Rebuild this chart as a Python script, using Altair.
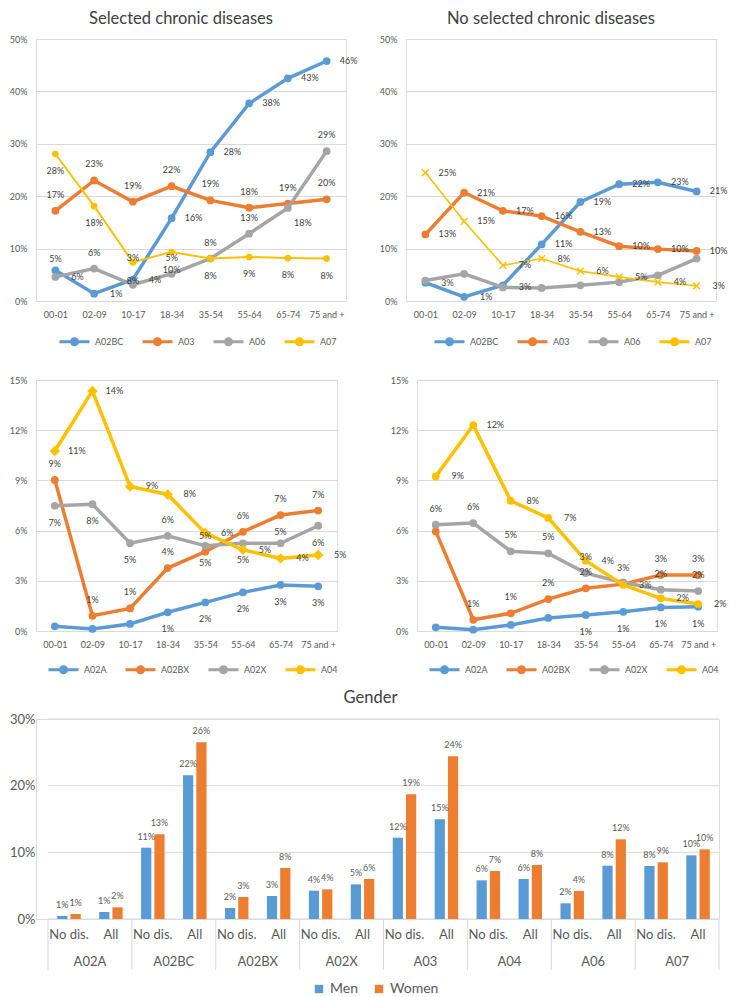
import altair as alt
import pandas as pd

FONT = "Lato"
AXIS_GRAY = "#595959"
LABEL_GRAY = "#404040"
GRID = "#d9d9d9"

CATS = ["00-01", "02-09", "10-17", "18-34", "35-54", "55-64", "65-74", "75 and +"]

# ---------- Panel 1: Selected chronic diseases (values in %) ----------
P1_SERIES = ["A02BC", "A03", "A06", "A07"]
P1_A02BC = [5.85, 1.4, 4.1, 15.8, 28.4, 37.7, 42.5, 45.8]
P1_A03 = [17.2, 23.0, 18.95, 21.9, 19.2, 17.8, 18.6, 19.4]
P1_A06 = [4.6, 6.2, 3.1, 5.2, 8.1, 12.85, 17.75, 28.6]
P1_A07 = [28.05, 18.1, 7.4, 9.35, 8.1, 8.4, 8.2, 8.1]
P1_A02BC_LAB = ["5%", "1%", "4%", "16%", "28%", "38%", "43%", "46%"]
P1_A03_LAB = ["17%", "23%", "19%", "22%", "19%", "18%", "19%", "20%"]
P1_A06_LAB = ["6%", "6%", "8%", "10%", "8%", "13%", "18%", "29%"]
P1_A07_LAB = ["28%", "18%", "3%", "5%", "8%", "9%", "8%", "8%"]
P1_A02BC_POS = ["a2", "r", "r", "r", "r", "r", "r", "r"]
P1_A03_POS = ["a", "a", "a", "a", "a", "a", "a", "a"]
P1_A06_POS = ["r", "a", "o", "o", "a", "a", "br", "a"]
P1_A07_POS = ["b", "b", "o", "u", "b", "b", "b", "b"]

# ---------- Panel 2: No selected chronic diseases ----------
P2_SERIES = ["A02BC", "A03", "A06", "A07"]
P2_A02BC = [3.5, 0.8, 3.0, 10.8, 18.9, 22.3, 22.65, 20.9]
P2_A03 = [12.7, 20.7, 17.2, 16.2, 13.2, 10.45, 9.9, 9.55]
P2_A06 = [3.9, 5.2, 2.6, 2.5, 3.0, 3.6, 4.9, 8.1]
P2_A07 = [24.5, 15.2, 6.8, 8.1, 5.7, 4.6, 3.6, 2.9]
P2_A02BC_LAB = ["3%", "1%", "", "11%", "19%", "22%", "23%", "21%"]
P2_A03_LAB = ["13%", "21%", "17%", "16%", "13%", "10%", "10%", "10%"]
P2_A06_LAB = ["", "", "3%", "", "", "", "", ""]
P2_A07_LAB = ["25%", "15%", "7%", "8%", "6%", "5%", "4%", "3%"]
P2_POS = ["r"] * 8

# ---------- Panel 3: selected chronic diseases, other groups ----------
P3_SERIES = ["A02A", "A02BX", "A02X", "A04"]
P3_A02A = [0.28, 0.12, 0.42, 1.12, 1.71, 2.31, 2.75, 2.67]
P3_A02BX = [9.03, 0.91, 1.35, 3.76, 4.74, 5.93, 6.93, 7.2]
P3_A02X = [7.48, 7.58, 5.25, 5.69, 5.09, 5.24, 5.24, 6.29]
P3_A04 = [10.76, 14.35, 8.64, 8.16, 5.85, 4.85, 4.34, 4.54]
P3_A02A_LAB = ["", "", "", "1%", "2%", "2%", "3%", "3%"]
P3_A02BX_LAB = ["9%", "1%", "1%", "4%", "5%", "6%", "7%", "7%"]
P3_A02X_LAB = ["7%", "8%", "5%", "6%", "5%", "5%", "5%", "6%"]
P3_A04_LAB = ["11%", "14%", "9%", "8%", "6%", "5%", "4%", "5%"]
P3_A02A_POS = ["b"] * 8
P3_A02BX_POS = ["a"] * 8
P3_A02X_POS = ["b", "b", "b", "a", "b", "b", "a2", "b"]
P3_A04_POS = ["r"] * 8

# ---------- Panel 4: no selected chronic diseases, other groups ----------
P4_SERIES = ["A02A", "A02BX", "A02X", "A04"]
P4_A02A = [0.22, 0.08, 0.36, 0.78, 0.96, 1.15, 1.41, 1.45]
P4_A02BX = [5.95, 0.67, 1.06, 1.91, 2.55, 2.8, 3.34, 3.34]
P4_A02X = [6.35, 6.45, 4.76, 4.64, 3.46, 2.9, 2.47, 2.39]
P4_A04 = [9.24, 12.3, 7.78, 6.76, 4.2, 2.75, 1.95, 1.61]
P4_A02A_LAB = ["", "", "", "", "1%", "1%", "1%", "1%"]
P4_A02BX_LAB = ["", "1%", "1%", "2%", "2%", "3%", "3%", "3%"]
P4_A02X_LAB = ["6%", "6%", "5%", "5%", "3%", "", "2%", "2%"]
P4_A04_LAB = ["9%", "12%", "8%", "7%", "4%", "3%", "2%", "2%"]
P4_A02A_POS = ["b"] * 8
P4_A02BX_POS = ["a"] * 8
P4_A02X_POS = ["a"] * 8
P4_A04_POS = ["r"] * 8

# ---------- Bar chart: Gender (values in %) ----------
GROUPS = ["A02A", "A02BC", "A02BX", "A02X", "A03", "A04", "A06", "A07"]
SUBS = ["No dis.", "All"]
GENDERS = ["Men", "Women"]
MEN_NODIS = [0.45, 10.7, 1.65, 4.25, 12.2, 5.8, 2.35, 7.95]
WOMEN_NODIS = [0.75, 12.7, 3.3, 4.45, 18.7, 7.2, 4.2, 8.5]
MEN_ALL = [1.05, 21.55, 3.45, 5.2, 14.95, 6.0, 8.0, 9.55]
WOMEN_ALL = [1.75, 26.5, 7.65, 6.0, 24.4, 8.1, 11.95, 10.45]
MEN_NODIS_LAB = ["1%", "11%", "2%", "4%", "12%", "6%", "2%", "8%"]
WOMEN_NODIS_LAB = ["1%", "13%", "3%", "4%", "19%", "7%", "4%", "9%"]
MEN_ALL_LAB = ["1%", "22%", "3%", "5%", "15%", "6%", "8%", "10%"]
WOMEN_ALL_LAB = ["2%", "26%", "8%", "6%", "24%", "8%", "12%", "10%"]
BAR_TICKS = [0, 0.1, 0.2, 0.3]

BLUE, ORANGE, GRAY, YELLOW = "#5B9BD5", "#ED7D31", "#A5A5A5", "#FFC000"
SERIES_COLORS = [BLUE, ORANGE, GRAY, YELLOW]

# label placement codes -> (dx, dy)
PLACE = {"a": (0, -16), "a2": (0, -11), "b": (0, 17), "r": (22, 0),
         "o": (0, -4), "u": (0, 6), "br": (15, 15)}

LEGEND_SYMBOL = "M-1,0L1,0M-0.2,0a0.2,0.2 0 1,0 0.4,0a0.2,0.2 0 1,0 -0.4,0Z"


def make_df(series, values, labels, places):
    rows = []
    for s, vals, labs, pos in zip(series, values, labels, places):
        for i, c in enumerate(CATS):
            rows.append({"series": s, "cat": c, "v": vals[i] / 100.0,
                         "lab": labs[i], "pos": pos[i]})
    return pd.DataFrame(rows)


def line_panel(df, series, styles, ymax, yvals, width, height, title, lx, ly):
    x = alt.X("cat:N", sort=CATS, scale=alt.Scale(type="point", padding=0.5),
              axis=alt.Axis(title=None, labelAngle=0, ticks=False, domain=False,
                            labelPadding=9, labelFontSize=9, labelColor=AXIS_GRAY,
                            labelFont=FONT))
    y = alt.Y("v:Q", scale=alt.Scale(domain=[0, ymax], nice=False, zero=True),
              axis=alt.Axis(title=None, format=".0%", values=yvals, grid=True,
                            gridColor=GRID, ticks=False, domain=False, labelPadding=9,
                            labelFontSize=9, labelColor=AXIS_GRAY, labelFont=FONT))
    color = alt.Color("series:N", sort=series,
                      scale=alt.Scale(domain=series, range=SERIES_COLORS),
                      legend=alt.Legend(title=None, orient="none", legendX=lx, legendY=ly,
                                        direction="horizontal", symbolType=LEGEND_SYMBOL,
                                        symbolSize=900, symbolStrokeWidth=3,
                                        labelFontSize=9, labelColor=AXIS_GRAY,
                                        labelFont=FONT, labelOffset=4, columnPadding=12))
    base = alt.Chart(df)
    layers = []
    for s in series:
        st = styles[s]
        sub = base.transform_filter(alt.datum.series == s)
        layers.append(sub.mark_line(strokeWidth=st["w"]).encode(x=x, y=y, color=color))
        if st.get("filled", True):
            pt = sub.mark_point(filled=True, opacity=1, shape=st["shape"], size=st["size"])
        else:
            pt = sub.mark_point(filled=False, opacity=1, shape=st["shape"], size=st["size"],
                                strokeWidth=1.5)
        layers.append(pt.encode(x=x, y=y, color=color))
    for code, (dx, dy) in PLACE.items():
        layers.append(
            base.transform_filter((alt.datum.pos == code) & (alt.datum.lab != ""))
            .mark_text(dx=dx, dy=dy, fontSize=9, color=LABEL_GRAY, font=FONT,
                       align="center", baseline="middle")
            .encode(x=x, y=y, text="lab:N")
        )
    ch = alt.layer(*layers).properties(width=width, height=height)
    if title:
        ch = ch.properties(title=alt.TitleParams(title, fontSize=16.5, font=FONT,
                                                 fontWeight="normal", color=LABEL_GRAY,
                                                 anchor="middle", frame="group", dx=-10,
                                                 offset=8))
    return ch


STD = {"w": 3.5, "shape": "circle", "size": 60}
styles1 = {"A02BC": STD, "A03": STD, "A06": STD,
           "A07": {"w": 2, "shape": "circle", "size": 45}}
styles2 = {"A02BC": STD, "A03": STD, "A06": STD,
           "A07": {"w": 1.6, "shape": "M-1,-1L1,1M-1,1L1,-1", "size": 45, "filled": False}}
styles3 = {"A02A": STD, "A02BX": STD, "A02X": STD,
           "A04": {"w": 3.5, "shape": "diamond", "size": 110}}
styles4 = {"A02A": STD, "A02BX": STD, "A02X": STD, "A04": STD}

df1 = make_df(P1_SERIES, [P1_A02BC, P1_A03, P1_A06, P1_A07],
              [P1_A02BC_LAB, P1_A03_LAB, P1_A06_LAB, P1_A07_LAB],
              [P1_A02BC_POS, P1_A03_POS, P1_A06_POS, P1_A07_POS])
df2 = make_df(P2_SERIES, [P2_A02BC, P2_A03, P2_A06, P2_A07],
              [P2_A02BC_LAB, P2_A03_LAB, P2_A06_LAB, P2_A07_LAB],
              [P2_POS, P2_POS, P2_POS, P2_POS])
df3 = make_df(P3_SERIES, [P3_A02A, P3_A02BX, P3_A02X, P3_A04],
              [P3_A02A_LAB, P3_A02BX_LAB, P3_A02X_LAB, P3_A04_LAB],
              [P3_A02A_POS, P3_A02BX_POS, P3_A02X_POS, P3_A04_POS])
df4 = make_df(P4_SERIES, [P4_A02A, P4_A02BX, P4_A02X, P4_A04],
              [P4_A02A_LAB, P4_A02BX_LAB, P4_A02X_LAB, P4_A04_LAB],
              [P4_A02A_POS, P4_A02BX_POS, P4_A02X_POS, P4_A04_POS])

top_vals = [0, 0.1, 0.2, 0.3, 0.4, 0.5]
mid_vals = [0, 0.03, 0.06, 0.09, 0.12, 0.15]

c1 = line_panel(df1, P1_SERIES, styles1, 0.5, top_vals, 310, 262,
                "Selected chronic diseases", 22, 286)
c2 = line_panel(df2, P2_SERIES, styles2, 0.5, top_vals, 310, 262,
                "No selected chronic diseases", 27, 286)
c3 = line_panel(df3, P3_SERIES, styles3, 0.15, mid_vals, 301, 251, None, 11, 273)
c4 = line_panel(df4, P4_SERIES, styles4, 0.15, mid_vals, 300, 251, None, 11, 273)

# ---------- bar chart ----------
bar_rows = []
for gi, g in enumerate(GROUPS):
    for sub, men, women, ml, wl in [("No dis.", MEN_NODIS, WOMEN_NODIS, MEN_NODIS_LAB, WOMEN_NODIS_LAB),
                                    ("All", MEN_ALL, WOMEN_ALL, MEN_ALL_LAB, WOMEN_ALL_LAB)]:
        bar_rows.append({"group": g, "key": g + "|" + sub, "gender": "Men",
                         "v": men[gi] / 100.0, "lab": ml[gi]})
        bar_rows.append({"group": g, "key": g + "|" + sub, "gender": "Women",
                         "v": women[gi] / 100.0, "lab": wl[gi]})
bdf = pd.DataFrame(bar_rows)
KEYS = [g + "|" + s for g in GROUPS for s in SUBS]
gdf = pd.DataFrame({"group": GROUPS})
# gridline data: one row per y tick, spanning the bar region from its start (0) to its end (1)
tdf = pd.DataFrame({"v": BAR_TICKS, "g0": [0] * len(BAR_TICKS), "g1": [1] * len(BAR_TICKS)})

BW, BH, BX0 = 683, 200, 12   # plot area width, height, left inset of the bar region
XR = [BX0, BW]
bx = alt.X("key:N", sort=KEYS, scale=alt.Scale(paddingInner=0.44, paddingOuter=0.22, range=XR),
           axis=alt.Axis(title=None, labelExpr="split(datum.label, '|')[1]", labelAngle=0,
                         ticks=False, domain=False, labelFontSize=13, labelColor=AXIS_GRAY,
                         labelFont=FONT, labelPadding=9))
bx_noaxis = alt.X("key:N", sort=KEYS, scale=alt.Scale(paddingInner=0.44, paddingOuter=0.22, range=XR),
                  axis=None)
bxo = alt.XOffset("gender:N", sort=GENDERS, scale=alt.Scale(paddingInner=0.23, paddingOuter=0))
by = alt.Y("v:Q", scale=alt.Scale(domain=[0, 0.3], nice=False),
           axis=alt.Axis(title=None, format=".0%", values=BAR_TICKS, grid=False,
                         ticks=False, domain=False, labelPadding=1,
                         labelFontSize=13, labelColor=AXIS_GRAY, labelFont=FONT))
bcolor = alt.Color("gender:N", sort=GENDERS, scale=alt.Scale(domain=GENDERS, range=[BLUE, ORANGE]),
                   legend=alt.Legend(title=None, orient="none", legendX=276, legendY=263,
                                     direction="horizontal", symbolType="square", symbolSize=70,
                                     labelFontSize=14, labelColor=AXIS_GRAY, labelFont=FONT,
                                     columnPadding=14, labelOffset=4))
gridx = alt.X("g0:Q", scale=alt.Scale(domain=[0, 1], range=XR, nice=False, zero=False), axis=None)
grid = alt.Chart(tdf).mark_rule(color=GRID, strokeWidth=1).encode(y=by, x=gridx, x2="g1:Q")
bars = alt.Chart(bdf).mark_bar().encode(x=bx, xOffset=bxo, y=by, color=bcolor)
bar_text = alt.Chart(bdf).mark_text(baseline="bottom", dy=-6, fontSize=9, color=AXIS_GRAY,
                                    font=FONT).encode(x=bx_noaxis, xOffset=bxo, y=by, text="lab:N")
gscale = alt.Scale(paddingInner=0, paddingOuter=0, range=XR)
gx0 = alt.X("group:N", sort=GROUPS, scale=gscale, bandPosition=0, axis=None)
gx1 = alt.X("group:N", sort=GROUPS, scale=gscale, bandPosition=1, axis=None)
gxm = alt.X("group:N", sort=GROUPS, scale=gscale, bandPosition=0.5, axis=None)
sep = alt.Chart(gdf).mark_rule(color=GRID, strokeWidth=1).encode(
    x=gx0, y=alt.value(BH), y2=alt.value(BH + 51))
sep_end = alt.Chart(gdf).transform_filter(alt.datum.group == GROUPS[-1]).mark_rule(
    color=GRID, strokeWidth=1).encode(x=gx1, y=alt.value(BH), y2=alt.value(BH + 51))
glab = alt.Chart(gdf).mark_text(fontSize=13, color=AXIS_GRAY, font=FONT, baseline="middle").encode(
    x=gxm, y=alt.value(BH + 43), text="group:N")

bar_chart = alt.layer(grid, bars, bar_text, sep, sep_end, glab).resolve_scale(x="independent").properties(
    width=BW, height=BH,
    title=alt.TitleParams("Gender", fontSize=16.5, font=FONT, fontWeight="normal", color=LABEL_GRAY,
                          anchor="middle", frame="group", dx=-7, offset=7))

top = alt.hconcat(c1, c2, spacing=20).resolve_scale(color="independent").resolve_legend(color="independent")
mid = alt.hconcat(c3, c4, spacing=42).resolve_scale(color="independent").resolve_legend(color="independent")
upper = (alt.concat(top, mid, columns=1, spacing=23)
         .resolve_scale(color="independent").resolve_legend(color="independent"))
chart = (alt.concat(upper, bar_chart, columns=1, spacing=9)
         .resolve_scale(color="independent").resolve_legend(color="independent")
         .properties(padding={"top": 2, "left": 0, "right": 0, "bottom": 0})
         .configure_view(stroke=None)
         .configure(font=FONT))

chart.save("out.html", embed_options={"renderer": "svg", "actions": False})
